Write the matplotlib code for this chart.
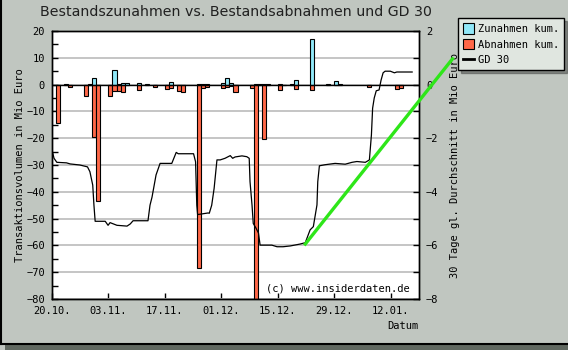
import matplotlib.pyplot as plt
import numpy as np
from matplotlib.ticker import MultipleLocator
from matplotlib.patches import Rectangle
from matplotlib.lines import Line2D

# days after 20.10.
tick_days = [0, 14, 28, 42, 56, 70, 84]
tick_labels = ["20.10.", "03.11.", "17.11.", "01.12.", "15.12.", "29.12.", "12.01."]

bar_days = [1, 3, 4, 8, 9, 10, 11, 14, 15, 16, 17, 18, 21, 23, 25, 28, 29, 31, 32,
            36, 37, 38, 42, 43, 44, 45, 49, 50, 51, 52, 53, 56, 57, 59, 60, 64, 68,
            70, 71, 78, 85, 86]
zunahmen = [0, 0.2, 0, 0, 0.2, 2.5, 0, 0, 5.5, 0.2, 0.5, 0.6, 0.7, 0.2, 0, 0, 1.0, 0, 0,
            0.2, 0.3, 0.2, 0.6, 2.5, 0.5, 0, 0, 0.2, 0.2, 0.2, 0.2, 0.2, 0, 0.2, 1.9, 17.0, 0.3,
            1.4, 0.3, 0, 0, 0]
abnahmen = [-14.5, -0.3, -0.9, -4.2, -0.2, -19.7, -43.5, -4.2, -2.4, -2.4, -2.7, -0.3, -2.1,
            -0.3, -1.0, -1.7, -1.2, -2.4, -2.7, -68.5, -1.2, -0.9, -1.2, -0.9, -0.5, -2.7, -1.2,
            -80.0, -0.3, -20.2, -0.3, -2.0, -0.3, -0.3, -1.6, -2.1, 0, -0.2, 0, -0.9, -1.6, -1.2]

# GD 30 (right axis, Mio Euro)
gd_days = [0, 0.5, 1.2, 3.6, 4.5, 6.9, 8.8, 9.4, 10.1, 10.4, 10.7, 13.2, 13.9, 14.4, 16.1,
           18.6, 19.4, 20.1, 23.8, 24.3, 24.8, 25.8, 26.8, 29.7, 30.8, 31.3, 35.1, 35.6, 35.9,
           36.1, 38.7, 39.0, 39.6, 40.2, 40.9, 41.7, 42.9, 44.2, 44.8, 45.4, 47.1, 48.3, 48.9,
           49.1, 49.6, 49.9, 50.6, 51.2, 51.6, 54.5, 55.8, 57.3, 59.1, 61.5, 62.8, 64.0, 64.8,
           65.7, 65.9, 66.3, 67.7, 70.2, 72.7, 74.4, 75.6, 77.7, 78.7, 79.2, 79.5, 79.9, 80.4,
           81.1, 81.6, 82.1, 82.6, 83.9, 84.9, 85.5, 89.3]
gd_values = [-2.44, -2.75, -2.90, -2.92, -2.96, -3.00, -3.07, -3.25, -3.75, -4.50, -5.10, -5.10,
             -5.25, -5.15, -5.25, -5.28, -5.20, -5.08, -5.08, -4.50, -4.20, -3.37, -2.94, -2.94,
             -2.53, -2.58, -2.58, -2.88, -4.50, -4.85, -4.79, -4.80, -4.50, -3.87, -2.81, -2.81,
             -2.75, -2.65, -2.75, -2.70, -2.66, -2.69, -2.75, -3.62, -4.50, -5.18, -5.36, -5.54,
             -5.99, -5.99, -6.05, -6.05, -6.02, -5.95, -5.90, -5.42, -5.30, -4.49, -3.62, -3.03,
             -2.99, -2.94, -2.97, -2.90, -2.87, -2.90, -2.81, -1.88, -0.88, -0.50, -0.23, -0.20,
             0.17, 0.44, 0.50, 0.50, 0.44, 0.47, 0.47]

# green trend line (right axis)
trend_days = [62.8, 99.3]
trend_values = [-5.95, 0.96]

bg = '#c0c6c0'
mono = 'DejaVu Sans Mono'

fig = plt.figure(figsize=(5.68, 3.5), dpi=100, facecolor=bg)
ax = fig.add_axes([52 / 568, 1 - 299 / 350, 367 / 568, 268 / 350])
ax2 = ax.twinx()

ax.set_xlim(0, 91)
ax.set_ylim(-80, 20)
ax2.set_ylim(-8, 2)

ax.yaxis.set_major_locator(MultipleLocator(10))
ax.yaxis.set_minor_locator(MultipleLocator(5))
ax2.yaxis.set_major_locator(MultipleLocator(2))
ax2.yaxis.set_minor_locator(MultipleLocator(1))
ax.grid(axis='y', color='#c0c0c0', lw=1.3)
ax.set_axisbelow(True)

ax.bar(bar_days, zunahmen, width=1, align='edge', color='#90e8f8', edgecolor='black', lw=0.8)
ax.bar(bar_days, abnahmen, width=1, align='edge', color='#ff6848', edgecolor='black', lw=0.8)
ax.axhline(0, color='black', lw=1)

ax2.plot(gd_days, gd_values, color='black', lw=0.9)
ax2.plot(trend_days, trend_values, color='#2ee619', lw=2.4, clip_on=False, zorder=5)

ax.set_xticks(tick_days)
ax.set_xticklabels(tick_labels)
for a in (ax, ax2):
    a.tick_params(which='both', direction='in', length=4, width=1, labelsize=7.5,
                  labelfontfamily=mono)
    for s in a.spines.values():
        s.set_linewidth(1)
ax.tick_params(axis='x', pad=5)
ax.tick_params(axis='y', pad=5)
ax2.tick_params(axis='y', pad=5)

ax.set_ylabel("Transaktionsvolumen in Mio Euro", fontfamily=mono, fontsize=7.5, labelpad=1)
ax2.set_ylabel("30 Tage gl. Durchschnitt in Mio Euro", fontfamily=mono, fontsize=7.5,
               labelpad=8)

fig.text(0.415, 1 - 12 / 350, "Bestandszunahmen vs. Bestandsabnahmen und GD 30",
         ha='center', va='center', fontsize=10.2, color='#202020')
fig.text(419 / 568, 1 - 326 / 350, "Datum", ha='right', va='center', fontfamily=mono,
         fontsize=7.5)
ax.text(0.975, 0.041, "(c) www.insiderdaten.de", transform=ax.transAxes, ha='right',
        va='center', fontfamily=mono, fontsize=7.5)

handles = [Rectangle((0, 0), 1, 1, facecolor='#90e8f8', edgecolor='black', lw=0.8),
           Rectangle((0, 0), 1, 1, facecolor='#ff6848', edgecolor='black', lw=0.8),
           Line2D([], [], color='black', lw=2)]
leg = fig.legend(handles, ["Zunahmen kum.", "Abnahmen kum.", "GD 30"],
                 loc='upper right', bbox_to_anchor=(564 / 568, 1 - 18 / 350),
                 prop={'family': mono, 'size': 7.5}, fancybox=False, shadow=True,
                 framealpha=1, facecolor='#e0e6e0', edgecolor='black',
                 handlelength=1.1, handleheight=1.2, handletextpad=0.3,
                 borderpad=0.5, labelspacing=0.45, borderaxespad=0)
leg.get_frame().set_linewidth(1)

# panel border and shadow
fig.patches.append(Rectangle((5 / 568, 0), 1, 6 / 350, transform=fig.transFigure,
                             facecolor='#606860', edgecolor='none'))
fig.lines.append(Line2D([0, 1], [6 / 350, 6 / 350], transform=fig.transFigure,
                        color='black', lw=1.5))
fig.lines.append(Line2D([0.001, 0.001], [6 / 350, 1], transform=fig.transFigure,
                        color='black', lw=1.5))

fig.savefig('out.png', dpi=100, facecolor=bg)
